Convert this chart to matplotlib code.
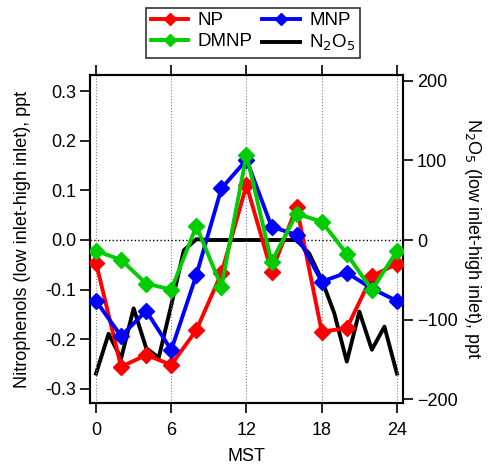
import numpy as np
import matplotlib
matplotlib.use("Agg")
import matplotlib.pyplot as plt

plt.rcParams['font.family'] = ['Liberation Sans', 'DejaVu Sans']

# diurnal hours for the nitrophenols (every 2 h)
hours = [0, 2, 4, 6, 8, 10, 12, 14, 16, 18, 20, 22, 24]
np_vals = [-0.046, -0.256, -0.232, -0.252, -0.182, -0.067, 0.111, -0.064, 0.067, -0.185, -0.178, -0.073, -0.048]
mnp_vals = [-0.123, -0.194, -0.143, -0.222, -0.071, 0.104, 0.162, 0.027, 0.010, -0.084, -0.066, -0.098, -0.123]
dmnp_vals = [-0.022, -0.040, -0.088, -0.100, 0.028, -0.094, 0.172, -0.044, 0.053, 0.037, -0.028, -0.101, -0.022]

# N2O5 hourly
n2o5_hours = list(range(25))
n2o5_vals = [-168, -118, -149, -86, -136, -148, -82, -13, 1, 0, 0, 0, 0,
             0, 0, 0, 0, -17, -50, -92, -153, -90, -138, -109, -168]

xticks = [0, 6, 12, 18, 24]

fig = plt.figure(figsize=(4.9, 4.68), dpi=100)
ax = fig.add_axes([0.1837, 0.1389, 0.6387, 0.7008])
ax2 = ax.twinx()

# gridlines
for xt in xticks:
    ax.axvline(xt, color='gray', ls=':', lw=0.8, zorder=0)
ax.axhline(0, color='black', ls=':', lw=1.0, zorder=0)

l_np, = ax.plot(hours, np_vals, color='#ff0000', lw=2.8, marker='D', ms=8.5, label='NP', zorder=3)
l_mnp, = ax.plot(hours, mnp_vals, color='#0000ff', lw=2.8, marker='D', ms=8.5, label='MNP', zorder=4)
l_dmnp, = ax.plot(hours, dmnp_vals, color='#00cc00', lw=2.8, marker='D', ms=8.5, label='DMNP', zorder=5)
l_n2o5, = ax2.plot(n2o5_hours, n2o5_vals, color='black', lw=2.8, label='N$_2$O$_5$')

ax.set_zorder(ax2.get_zorder() + 1)
ax.patch.set_visible(False)

ax.set_xlim(-0.48, 24.48)
ax.set_ylim(-0.329, 0.333)
ax2.set_ylim(-205, 207.5)
ax.set_xticks(xticks)
ax.set_yticks([-0.3, -0.2, -0.1, 0.0, 0.1, 0.2, 0.3])
ax.set_yticklabels(['-0.3', '-0.2', '-0.1', '0.0', '0.1', '0.2', '0.3'])
ax2.set_yticks([-200, -100, 0, 100, 200])

ax.tick_params(axis='both', direction='out', length=7, width=1.2, labelsize=13, top=True)
ax.tick_params(axis='x', pad=7)
ax.tick_params(axis='y', pad=3)
ax2.tick_params(axis='y', direction='out', length=7, width=1.2, labelsize=13, pad=3)
for sp in ax.spines.values():
    sp.set_linewidth(1.5)
for sp in ax2.spines.values():
    sp.set_linewidth(1.5)
ax2.spines['right'].set_color('#555555')

ax.set_xlabel('MST', fontsize=13, labelpad=6)
ax.set_ylabel('Nitrophenols (low inlet-high inlet), ppt', fontsize=13, labelpad=10)
ax2.set_ylabel('N$_2$O$_5$ (low inlet-high inlet), ppt', fontsize=13, rotation=270, labelpad=18)

leg = fig.legend([l_np, l_dmnp, l_mnp, l_n2o5], ['NP', 'DMNP', 'MNP', 'N$_2$O$_5$'],
                 ncol=2, loc='upper center', bbox_to_anchor=(0.517, 1.004),
                 fontsize=13.5, frameon=True, fancybox=False, edgecolor='black',
                 handlelength=2.0, columnspacing=0.5, handletextpad=0.5,
                 borderpad=0.25, labelspacing=0.2, markerscale=0.7)
leg.get_frame().set_linewidth(1.2)

fig.savefig('out.png', dpi=100)
